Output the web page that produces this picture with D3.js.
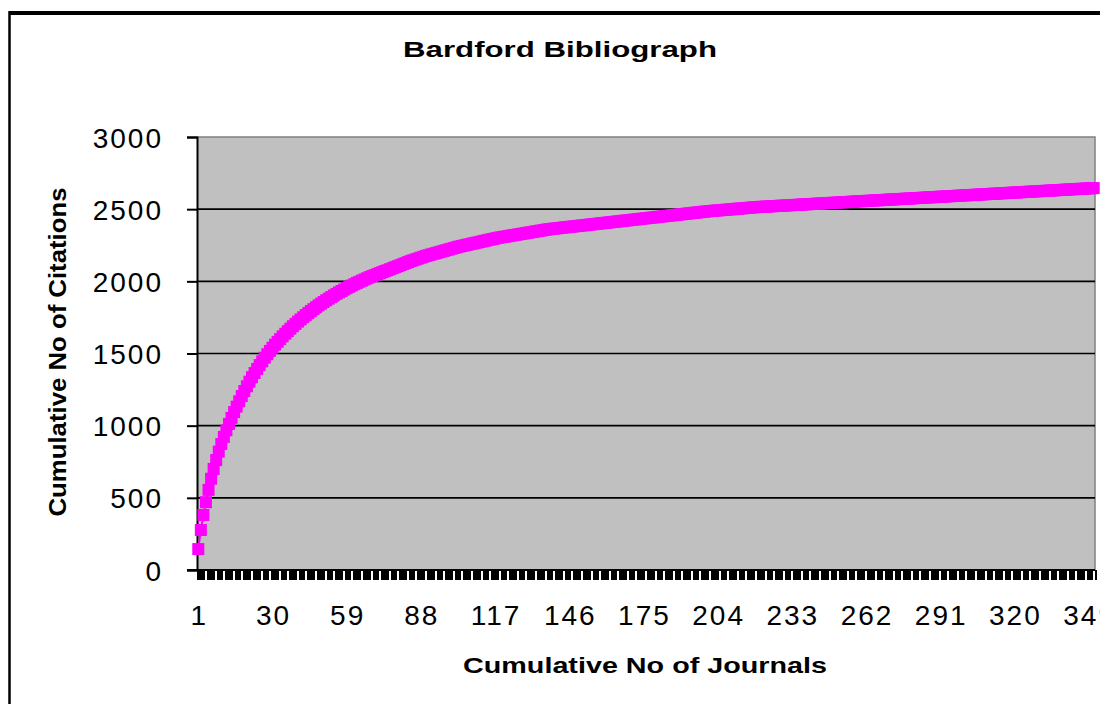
<!DOCTYPE html>
<html>
<head>
<meta charset="utf-8">
<script src="https://cdn.jsdelivr.net/npm/d3@7"></script>
<style>
    html, body { margin: 0; padding: 0; background: #fff; }
    svg { display: block; }
    text { font-family: "Liberation Sans", Arial, sans-serif; fill: #000; }
</style>
</head>
<body>
<div id="chart"></div>
<script>
// Cumulative no of citations, one value per journal (rank 1..351)
const cumulativeCitations = [
    145, 277, 381, 470, 555, 632, 700, 762, 820, 873,
    922, 968, 1012, 1054, 1094, 1132, 1169, 1205, 1240, 1273,
    1305, 1336, 1365, 1393, 1420, 1446, 1471, 1495, 1518, 1540,
    1561, 1581, 1600, 1619, 1637, 1655, 1672, 1689, 1705, 1721,
    1736, 1751, 1766, 1780, 1794, 1807, 1820, 1833, 1845, 1857,
    1869, 1880, 1891, 1902, 1913, 1923, 1933, 1943, 1953, 1962,
    1971, 1980, 1989, 1997, 2005, 2013, 2021, 2029, 2036, 2043,
    2050, 2057, 2064, 2071, 2077, 2084, 2091, 2098, 2105, 2112,
    2119, 2126, 2133, 2140, 2146, 2152, 2158, 2164, 2170, 2176,
    2181, 2186, 2191, 2196, 2201, 2206, 2211, 2216, 2221, 2226,
    2231, 2236, 2241, 2245, 2249, 2253, 2257, 2261, 2265, 2269,
    2273, 2277, 2281, 2285, 2289, 2293, 2297, 2301, 2304, 2307,
    2310, 2313, 2316, 2319, 2322, 2325, 2328, 2331, 2334, 2337,
    2340, 2343, 2346, 2349, 2352, 2355, 2358, 2361, 2363, 2365,
    2367, 2369, 2371, 2373, 2375, 2377, 2379, 2381, 2383, 2385,
    2387, 2389, 2391, 2393, 2395, 2397, 2399, 2401, 2403, 2405,
    2407, 2409, 2411, 2413, 2415, 2417, 2419, 2421, 2423, 2425,
    2427, 2429, 2431, 2433, 2435, 2437, 2439, 2441, 2443, 2445,
    2447, 2449, 2451, 2453, 2455, 2457, 2459, 2461, 2463, 2465,
    2467, 2469, 2471, 2473, 2475, 2477, 2479, 2481, 2483, 2485,
    2487, 2488, 2490, 2491, 2493, 2494, 2496, 2497, 2499, 2500,
    2502, 2503, 2505, 2506, 2508, 2509, 2511, 2512, 2514, 2515,
    2516, 2517, 2518, 2519, 2520, 2521, 2522, 2523, 2524, 2525,
    2526, 2527, 2528, 2529, 2530, 2531, 2532, 2533, 2534, 2535,
    2536, 2537, 2538, 2539, 2540, 2541, 2542, 2543, 2544, 2545,
    2546, 2547, 2548, 2549, 2550, 2551, 2552, 2553, 2554, 2555,
    2556, 2557, 2558, 2559, 2560, 2561, 2562, 2563, 2564, 2565,
    2566, 2567, 2568, 2569, 2570, 2571, 2572, 2573, 2574, 2575,
    2576, 2577, 2578, 2579, 2580, 2581, 2582, 2583, 2584, 2585,
    2586, 2587, 2588, 2589, 2590, 2591, 2592, 2593, 2594, 2595,
    2596, 2597, 2598, 2599, 2600, 2601, 2602, 2603, 2604, 2605,
    2606, 2607, 2608, 2609, 2610, 2611, 2612, 2613, 2614, 2615,
    2616, 2617, 2618, 2619, 2620, 2621, 2622, 2623, 2624, 2625,
    2626, 2627, 2628, 2629, 2630, 2631, 2632, 2633, 2634, 2635,
    2636, 2637, 2638, 2639, 2640, 2641, 2642, 2643, 2644, 2645,
    2646
];
const journalRanks = cumulativeCitations.map((d, i) => i + 1);
const xTickLabels = [1, 30, 59, 88, 117, 146, 175, 204, 233, 262, 291, 320, 349];
const yTicks = [0, 500, 1000, 1500, 2000, 2500, 3000];

const chartTitle = "Bardford Bibliograph";
const xTitle = "Cumulative No of Journals";
const yTitle = "Cumulative No of Citations";

const width = 1100;
const height = 704;
const plot = { left: 197, right: 1095, top: 137, bottom: 570 };

const svg = d3.select("#chart")
    .append("svg")
    .attr("width", width)
    .attr("height", height);

// chart area border (only top and left visible in the crop)
svg.append("line")
    .attr("x1", 9).attr("x2", width)
    .attr("y1", 13).attr("y2", 13)
    .attr("stroke", "#000").attr("stroke-width", 4);
svg.append("line")
    .attr("x1", 9.5).attr("x2", 9.5)
    .attr("y1", 11).attr("y2", height)
    .attr("stroke", "#000").attr("stroke-width", 2.5);

const xScale = d3.scaleBand()
    .domain(journalRanks)
    .range([plot.left, plot.right])
    .padding(0);

const yScale = d3.scaleLinear()
    .domain([0, 3000])
    .range([plot.bottom, plot.top]);

const xCenter = d => xScale(d) + xScale.bandwidth() / 2;

// plot area
svg.append("rect")
    .attr("x", plot.left)
    .attr("y", plot.top)
    .attr("width", plot.right - plot.left)
    .attr("height", plot.bottom - plot.top)
    .attr("fill", "#c0c0c0");

// plot area border, top + right in gray
svg.append("path")
    .attr("d", `M${plot.left},${plot.top}H${plot.right}V${plot.bottom}`)
    .attr("fill", "none")
    .attr("stroke", "#808080")
    .attr("stroke-width", 1.5);

// horizontal gridlines
svg.append("g")
    .selectAll("line")
    .data(yTicks.filter(d => d > 0 && d < 3000))
    .join("line")
    .attr("x1", plot.left).attr("x2", plot.right)
    .attr("y1", d => yScale(d)).attr("y2", d => yScale(d))
    .attr("stroke", "#000")
    .attr("stroke-width", 1.6);

// y axis
const yAxis = svg.append("g")
    .attr("transform", `translate(${plot.left},0)`)
    .call(d3.axisLeft(yScale).tickValues(yTicks).tickSize(10).tickPadding(0).tickFormat(d3.format("d")));
yAxis.select(".domain").attr("stroke-width", 2);
yAxis.selectAll(".tick line").attr("stroke-width", 2);
yAxis.selectAll(".tick text")
    .attr("x", -34)
    .attr("dy", "0.36em")
    .attr("font-size", 28)
    .attr("letter-spacing", 2)
    .attr("font-family", "Liberation Sans, Arial, sans-serif");

// x axis: a tick between every category (snapped to a 2px grid, like the
// upscaled original), labels every 29th category
const tickX = d => 2 * Math.round((plot.left + (d - 1) * xScale.bandwidth()) / 2);
svg.append("g")
    .selectAll("rect")
    .data(journalRanks.concat([journalRanks.length + 1]))
    .join("rect")
    .attr("x", d => tickX(d) - 1)
    .attr("y", plot.bottom)
    .attr("width", 2)
    .attr("height", 10)
    .attr("fill", "#000")
    .attr("shape-rendering", "crispEdges");

svg.append("line")
    .attr("x1", plot.left - 10).attr("x2", plot.right)
    .attr("y1", plot.bottom).attr("y2", plot.bottom)
    .attr("stroke", "#000").attr("stroke-width", 2);

svg.append("g")
    .selectAll("text")
    .data(xTickLabels)
    .join("text")
    .attr("x", d => xCenter(d) + 1)
    .attr("y", 625)
    .attr("text-anchor", "middle")
    .attr("font-size", 28)
    .attr("letter-spacing", 2)
    .text(d => d);

// series: line + square markers
const line = d3.line()
    .x((d, i) => xCenter(journalRanks[i]))
    .y(d => yScale(d));

svg.append("path")
    .datum(cumulativeCitations)
    .attr("d", line)
    .attr("fill", "none")
    .attr("stroke", "#ff00ff")
    .attr("stroke-width", 2);

const markerSize = 12;
svg.append("g")
    .selectAll("rect")
    .data(cumulativeCitations)
    .join("rect")
    .attr("x", (d, i) => xCenter(journalRanks[i]) - markerSize / 2)
    .attr("y", d => yScale(d) - markerSize / 2)
    .attr("width", markerSize)
    .attr("height", markerSize)
    .attr("fill", "#ff00ff");

// titles
svg.append("text")
    .attr("x", 560)
    .attr("y", 57)
    .attr("text-anchor", "middle")
    .attr("font-size", 22)
    .attr("font-weight", "bold")
    .attr("textLength", 314)
    .attr("lengthAdjust", "spacingAndGlyphs")
    .text(chartTitle);

svg.append("text")
    .attr("x", 645)
    .attr("y", 673)
    .attr("text-anchor", "middle")
    .attr("font-size", 22)
    .attr("font-weight", "bold")
    .attr("textLength", 364)
    .attr("lengthAdjust", "spacingAndGlyphs")
    .text(xTitle);

svg.append("text")
    .attr("transform", "translate(66,352) rotate(-90)")
    .attr("text-anchor", "middle")
    .attr("font-size", 24)
    .attr("font-weight", "bold")
    .attr("textLength", 329)
    .attr("lengthAdjust", "spacingAndGlyphs")
    .text(yTitle);
</script>
</body>
</html>
